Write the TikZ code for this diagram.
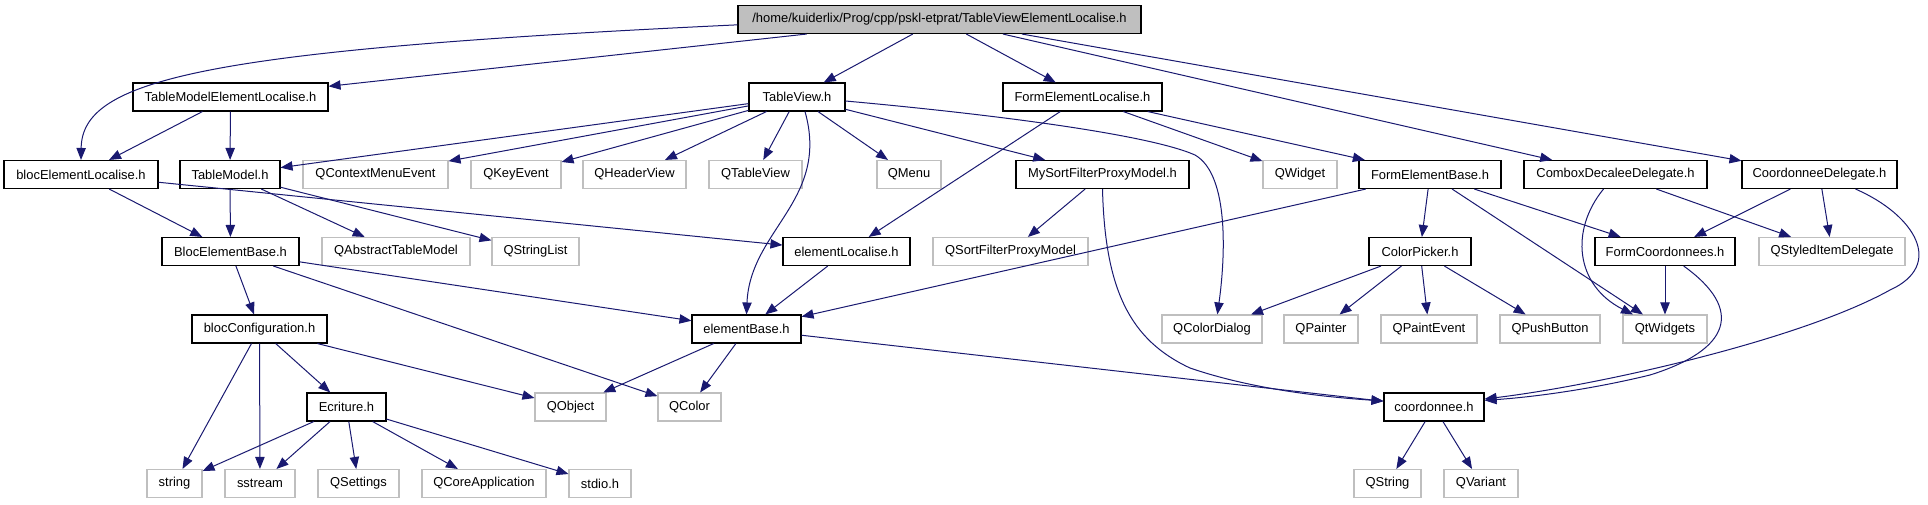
\documentclass[tikz,border=0pt]{standalone}
\usepackage{fontspec}
\setmainfont{Liberation Sans}
\usepackage{tikz}
\usetikzlibrary{arrows.meta,positioning}
\usepackage{xcolor}
\definecolor{edgeBlue}{RGB}{25,25,112}
\definecolor{extGray}{RGB}{191,191,191}
\definecolor{rootFill}{RGB}{191,191,191}

\begin{document}
\begin{tikzpicture}[x=0.75pt, y=-0.75pt,
  every node/.style={font=\fontsize{9.7}{11}\selectfont, inner sep=0pt, minimum height=21pt},
  doc/.style={draw=black, line width=0.8pt, fill=white},
  ext/.style={draw=extGray, line width=0.8pt, fill=white},
  boxw/.style={minimum width=#1*0.75pt},
  dep/.style={draw=edgeBlue, line width=0.75pt, -{Triangle[length=9pt,width=7pt]}}]
  \useasboundingbox (0,0) rectangle (1928,504);
  % Root
  \node[doc, fill=rootFill, boxw=403] (root) at (939.5,19.5) {/home/kuiderlix/Prog/cpp/pskl-etprat/TableViewElementLocalise.h};
  % Row 1
  \node[doc, boxw=195] (tmel) at (230.5,97) {TableModelElementLocalise.h};
  \node[doc, boxw=96] (tview) at (797,97) {TableView.h};
  \node[doc, boxw=159] (fel) at (1082.5,97) {FormElementLocalise.h};
  % Row 2
  \node[doc, boxw=154] (bel) at (81,174.5) {blocElementLocalise.h};
  \node[doc, boxw=100] (tmodel) at (230,174.5) {TableModel.h};
  \node[ext, boxw=145] (qcme) at (375.5,174.5) {QContextMenuEvent};
  \node[ext, boxw=90] (qke) at (516,174.5) {QKeyEvent};
  \node[ext, boxw=103] (qhv) at (634.5,174.5) {QHeaderView};
  \node[ext, boxw=93] (qtv) at (755.5,174.5) {QTableView};
  \node[ext, boxw=64] (qmenu) at (909,174.5) {QMenu};
  \node[doc, boxw=173] (msfpm) at (1102.5,174.5) {MySortFilterProxyModel.h};
  \node[ext, boxw=74] (qwidget) at (1300,174.5) {QWidget};
  \node[doc, boxw=142] (feb) at (1430,174.5) {FormElementBase.h};
  \node[doc, boxw=183] (cdd) at (1615.5,174.5) {ComboxDecaleeDelegate.h};
  \node[doc, boxw=155] (cd) at (1819.5,174.5) {CoordonneeDelegate.h};
  % Row 3
  \node[doc, boxw=137] (beb) at (230.5,251.5) {BlocElementBase.h};
  \node[ext, boxw=148] (qatm) at (396,251.5) {QAbstractTableModel};
  \node[ext, boxw=87] (qsl) at (535.5,251.5) {QStringList};
  \node[doc, boxw=127] (el) at (846.5,251.5) {elementLocalise.h};
  \node[ext, boxw=155] (qsfpm) at (1010.5,251.5) {QSortFilterProxyModel};
  \node[doc, boxw=102] (cp) at (1420,251.5) {ColorPicker.h};
  \node[doc, boxw=140] (fc) at (1665,251.5) {FormCoordonnees.h};
  \node[ext, boxw=146] (qsid) at (1832,251.5) {QStyledItemDelegate};
  % Row 4
  \node[doc, boxw=135] (bc) at (259.5,329) {blocConfiguration.h};
  \node[doc, boxw=109] (eb) at (746.5,329) {elementBase.h};
  \node[ext, boxw=100] (qcd) at (1212,329) {QColorDialog};
  \node[ext, boxw=74] (qpainter) at (1321,329) {QPainter};
  \node[ext, boxw=96] (qpe) at (1429,329) {QPaintEvent};
  \node[ext, boxw=100] (qpb) at (1550,329) {QPushButton};
  \node[ext, boxw=84] (qtw) at (1665,329) {QtWidgets};
  % Row 5
  \node[doc, boxw=79] (ecr) at (346.5,407) {Ecriture.h};
  \node[ext, boxw=71] (qobj) at (570.5,407) {QObject};
  \node[ext, boxw=63] (qcolor) at (689.5,407) {QColor};
  \node[doc, boxw=100] (coord) at (1434,407) {coordonnee.h};
  % Row 6
  \node[ext, boxw=55] (str) at (174.5,483.5) {string};
  \node[ext, boxw=70] (sstr) at (260,483.5) {sstream};
  \node[ext, boxw=81] (qset) at (358.5,483.5) {QSettings};
  \node[ext, boxw=124] (qca) at (484,483.5) {QCoreApplication};
  \node[ext, boxw=62] (stdio) at (600,483.5) {stdio.h};
  \node[ext, boxw=67] (qstring) at (1387.5,483.5) {QString};
  \node[ext, boxw=74] (qvariant) at (1481,483.5) {QVariant};
  % Arrows
  \draw[dep] ([yshift=-4pt]root.west) .. controls (200,50) and (82,80) .. (bel.north);
  \draw[dep] (root) -- (tmel);
  \draw[dep] (root) -- (tview);
  \draw[dep] (root) -- (fel);
  \draw[dep] (root) -- (cdd);
  \draw[dep] (root) -- (cd);
  \draw[dep] (tmel) -- (bel);
  \draw[dep] (tmel) -- (tmodel);
  \draw[dep] (tview) -- (tmodel);
  \draw[dep] (tview) -- (qcme);
  \draw[dep] (tview) -- (qke);
  \draw[dep] (tview) -- (qhv);
  \draw[dep] (tview) -- (qtv);
  \draw[dep] (tview) -- (qmenu);
  \draw[dep] (tview) -- (msfpm);
  \draw[dep] ([xshift=6pt]tview.south) .. controls (830,200) and (750,230) .. (eb.north);
  \draw[dep] ([yshift=-3pt]tview.east) .. controls (1000,115) and (1150,135) .. (1195,155)
    .. controls (1230,175) and (1225,260) .. ([xshift=4pt]qcd.north);
  \draw[dep] (fel) -- (el);
  \draw[dep] (fel) -- (qwidget);
  \draw[dep] (fel) -- (feb);
  \draw[dep] (bel) -- (beb);
  \draw[dep] (bel) -- (el);
  \draw[dep] (tmodel) -- (beb);
  \draw[dep] (tmodel) -- (qatm);
  \draw[dep] (tmodel) -- (qsl);
  \draw[dep] (msfpm) -- (qsfpm);
  \draw[dep] (msfpm.south) .. controls (1105,290) and (1130,340) .. (1190,368)
    .. controls (1260,392) and (1340,398) .. ([yshift=4.5pt]coord.west);
  \draw[dep] (feb) -- (eb);
  \draw[dep] (feb) -- (cp);
  \draw[dep] (feb) -- (fc);
  \draw[dep] (feb) -- (qtw);
  \draw[dep] ([xshift=-9pt]cdd.south) .. controls (1570,230) and (1575,285) .. ([xshift=-24pt]qtw.north);
  \draw[dep] (cdd) -- (qsid);
  \draw[dep] (cd) -- (fc);
  \draw[dep] (cd) -- (qsid);
  \draw[dep] ([xshift=27pt]cd.south) .. controls (1915,215) and (1945,265) .. (1890,290)
    .. controls (1800,340) and (1600,385) .. ([yshift=6pt]coord.east);
  \draw[dep] (beb) -- (bc);
  \draw[dep] (beb) -- (eb);
  \draw[dep] (beb) -- (qcolor);
  \draw[dep] (el) -- (eb);
  \draw[dep] (cp) -- (qcd);
  \draw[dep] (cp) -- (qpainter);
  \draw[dep] (cp) -- (qpe);
  \draw[dep] (cp) -- (qpb);
  \draw[dep] (fc) -- (qtw);
  \draw[dep] ([xshift=14pt]fc.south) .. controls (1745,310) and (1730,350) .. (1650,375)
    .. controls (1580,392) and (1520,398) .. ([yshift=5pt]coord.east);
  \draw[dep] (bc) -- (str);
  \draw[dep] (bc) -- (sstr);
  \draw[dep] (bc) -- (ecr);
  \draw[dep] (bc) -- (qobj);
  \draw[dep] (eb) -- (qobj);
  \draw[dep] (eb) -- (qcolor);
  \draw[dep] (eb) -- (coord);
  \draw[dep] (ecr) -- (str);
  \draw[dep] (ecr) -- (sstr);
  \draw[dep] (ecr) -- (qset);
  \draw[dep] (ecr) -- (qca);
  \draw[dep] (ecr) -- (stdio);
  \draw[dep] (coord) -- (qstring);
  \draw[dep] (coord) -- (qvariant);
\end{tikzpicture}
\end{document}
